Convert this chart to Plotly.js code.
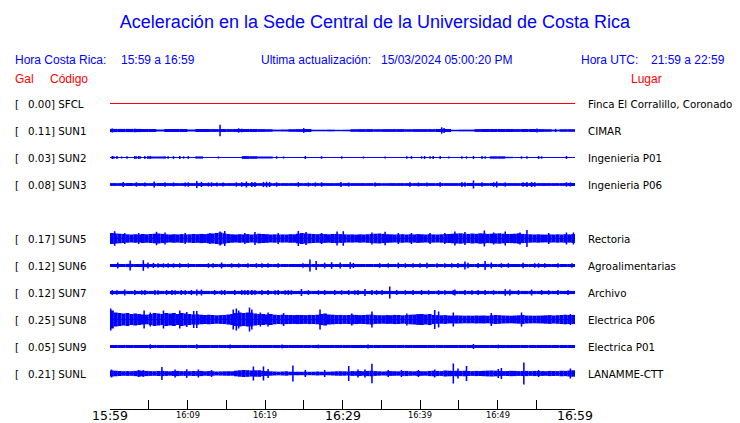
<!DOCTYPE html>
<html><head><meta charset="utf-8">
<script src="https://cdn.plot.ly/plotly-3.0.1.min.js"></script>
<style>html,body{margin:0;padding:0;background:#fff;} #chart{width:740px;height:423px;}</style>
</head><body><div id="chart"></div>
<script>
// ================= DATA =================
const chartTitle = 'Aceleración en la Sede Central de la Universidad de Costa Rica';
const localRange = '15:59 a 16:59';
const utcRange = '21:59 a 22:59';
const lastUpdate = '15/03/2024 05:00:20 PM';
const stations = ['SFCL','SUN1','SUN2','SUN3','SUN5','SUN6','SUN7','SUN8','SUN9','SUNL'];
const pgaGal = [0.00,0.11,0.03,0.08,0.17,0.12,0.12,0.25,0.05,0.21];
const places = ['Finca El Corralillo, Coronado','CIMAR','Ingenieria P01','Ingenieria P06','Rectoria','Agroalimentarias','Archivo','Electrica P06','Electrica P01','LANAMME-CTT'];
const windowMinutes = 60;
const tickStepMinutes = 5;
const tickMinutes = [0,10,20,30,40,50,60];
const tickLabels = ['15:59','16:09','16:19','16:29','16:39','16:49','16:59'];
const tickMajor = [true,false,false,true,false,false,true];

// envelope half-amplitudes (relative units), evenly spread over the window
const env_SFCL = [0,0,0,0,0,0,0,0,0,0,0,0];
const env_SUN1 = [1.6,1.6,1.6,1.6,1.5,1.5,1.0,1.5,1.5,1.5,1.0,1.5,1.5,1.4,
  1.5,1.4,1.5,1.5,1.5,1.4,1.3,0.9,1.0,1.3,1.4,1.5,0.8,0.8,0.9,0.7,0.8,
  1.3,1.4,1.4,1.3,1.4,1.4,1.4,1.3,1.4,1.4,1.4,1.5,1.5,0.8,0.9,0.9,
  1.4,1.5,1.5,1.5,1.5,1.4,1.5,1.5,1.4,1.3,0.9,1.3,1.3];
const env_SUN2 = [0.5,0.5,0.5,0.5,0.5,1.0,1.0,0.5,0.5,0.5,0.5,1.1,0.5,0.5,0.5,0.5,0.5,1.4,1.3,1.0,
  1.0,0.5,0.5,0.5,0.5,0.5,0.5,0.5,0.5,0.5,0.5,0.5,0.5,0.5,0.5,0.5,0.5,0.5,0.5,0.5,
  0.5,0.5,0.5,0.5,0.5,0.5,0.5,0.5,0.5,1.2,1.2,0.7,0.5,0.5,0.5,0.5,0.5,0.5,0.5,0.5];
const env_SUN3 = [1.4,1.4,1.5,1.4,1.4,1.4,1.5,1.4,1.4,1.4,1.4,1.5,1.4,1.4,1.4,1.4,1.4,1.5,1.5,1.4,
  1.4,1.4,1.4,1.4,1.4,1.4,1.4,1.4,1.4,1.4,1.4,1.4,1.4,1.4,1.4,1.3,1.4,1.4,1.4,1.4,
  1.4,1.4,1.4,1.4,1.4,1.4,1.5,1.4,1.4,1.5,1.4,1.4,1.4,1.5,1.5,1.4,1.4,1.4,1.4,1.5];
const env_SUN5 = [5.5,5.0,4.8,4.5,4.2,4.0,4.3,4.0,4.5,4.2, 4.5,4.8,5.0,4.6,4.2,4.0,4.3,4.1,4.4,4.0,
  4.2,4.5,4.3,4.6,4.4,4.8,5.0,5.5,6.0,5.2, 4.5,4.2,4.0,4.3,4.1,4.4,4.0,4.2,4.8,4.5,
  4.3,4.0,4.2,3.9,4.1,4.0,4.3,4.2,4.8,5.5, 5.0,4.8,4.5,4.3,4.6,4.4,4.2,4.5,4.6,4.4,
  4.2,4.0,4.1,3.9,4.2,4.0,4.3,4.5,4.8,5.0, 4.6,4.3,4.2,4.0,4.1,4.3,4.0,4.2,4.1,4.4,
  4.2,4.0,4.3,4.1,4.0,4.2,4.4,4.5,4.8,5.0, 5.2,4.8,4.6,5.0,4.7,5.2,5.0,4.6,4.8,5.0,
  5.2,4.8,4.5,4.6,4.8,5.2,4.6,4.4,4.2,4.0, 4.2,4.0,3.9,4.1,4.0,4.2,4.0,4.3,4.1,4.4];
const env_SUN6 = [1.5,1.5,1.6,1.5,1.6,1.5,1.5,1.5,1.5,1.5,1.5,1.5,1.5,1.5,1.6,1.5,1.5,1.5,1.5,1.5,
  1.5,1.5,1.5,1.5,1.5,1.6,1.5,1.5,1.5,1.5,1.5,1.5,1.5,1.5,1.5,1.5,1.5,1.5,1.5,1.5,
  1.5,1.5,1.5,1.5,1.5,1.6,1.5,1.5,1.6,1.5,1.5,1.5,1.5,1.5,1.5,1.5,1.5,1.5,1.5,1.5];
const env_SUN7 = [1.6,1.6,1.6,1.6,1.6,1.6,1.6,1.6,1.6,1.6,1.6,1.6,1.6,1.6,1.6,1.6,1.6,1.7,1.7,1.6,
  1.6,1.6,1.6,1.6,1.6,1.6,1.6,1.6,1.6,1.6,1.6,1.6,1.6,1.6,1.6,1.6,1.6,1.6,1.6,1.6,
  1.6,1.6,1.6,1.6,1.6,1.6,1.6,1.6,1.6,1.6,1.6,1.7,1.6,1.6,1.6,1.6,1.6,1.6,1.6,1.6];
const env_SUN8 = [9.0,7.0,6.5,6.0,6.5,5.5,6.0,5.5,5.0,4.8, 5.5,6.5,6.0,5.5,6.5,6.0,6.5,5.5,6.5,6.0,
  5.5,5.0,5.2,4.8,4.5,4.8,4.5,4.2,4.4,4.6, 5.0,5.5,6.5,7.0,6.5,7.0,6.8,6.0,5.5,5.5,
  5.0,5.5,4.8,4.5,4.8,4.6,4.5,4.4,4.6,4.5, 4.4,4.6,4.5,4.8,5.5,6.0,5.0,4.8,4.5,4.6,
  4.4,4.5,4.8,4.6,4.4,4.5,4.8,5.0,4.4,4.3, 4.2,4.4,4.3,4.6,4.5,4.2,4.4,4.8,5.0,5.4,
  5.5,5.0,5.5,4.6,4.3,4.2,4.4,4.0,3.9,4.1, 4.0,3.8,3.9,3.8,4.0,3.9,4.0,3.8,4.2,4.5,
  4.3,4.0,3.9,3.8,4.0,4.2,4.5,4.0,3.9,3.8, 3.9,4.0,4.2,4.4,4.0,4.3,4.5,4.8,4.5,4.6];
const env_SUN9 = [1.5,1.5,1.5,1.5,1.5,1.5,1.5,1.5,1.5,1.5,1.5,1.5,1.5,1.5,1.5,1.5,1.5,1.5,1.5,1.5,
  1.5,1.5,1.5,1.5,1.5,1.5,1.5,1.5,1.5,1.5,1.5,1.5,1.5,1.5,1.5,1.5,1.5,1.5,1.5,1.5,
  1.5,1.5,1.5,1.5,1.5,1.5,1.5,1.5,1.5,1.5,1.5,1.5,1.5,1.5,1.5,1.5,1.5,1.5,1.5,1.5];
const env_SUNL = [3.0,2.8,2.5,2.3,2.4,2.3,2.6,3.0,2.8,2.6, 2.4,2.3,2.5,2.6,2.4,2.2,2.5,2.6,2.3,2.4,
  2.3,2.5,2.4,2.6,2.2,2.4,2.3,2.0,2.1,2.2, 2.3,2.2,2.8,3.2,3.5,3.3,3.0,3.2,3.3,2.6,
  2.4,2.2,2.0,1.8,2.0,2.2,1.8,1.7,1.8,1.7, 1.8,1.7,1.8,2.0,1.8,1.7,1.8,2.0,2.2,2.3,
  2.2,2.0,2.4,2.3,2.5,2.2,2.6,2.8,2.4,2.2, 2.0,2.2,2.4,2.3,2.2,2.4,2.6,2.3,2.2,2.5,
  2.3,2.2,2.6,2.8,2.6,2.4,3.0,2.8,2.6,2.8, 2.6,2.8,2.5,2.4,2.6,2.5,2.7,2.9,3.0,2.8,
  2.6,2.4,2.5,2.7,2.6,2.4,2.5,2.6,2.4,2.6, 2.5,2.4,2.3,2.6,2.5,2.4,2.8,2.6,3.0,3.2];

// individual peaks: minute in window and half-amplitude
const spikeT_SFCL = [];
const spikeA_SFCL = [];
const spikeT_SUN1 = [0.3,3.2,14.2,16.6,17.0,25.0,42.8,43.1,55.1,57.5];
const spikeA_SUN1 = [2.0,1.8,5.7,2.2,1.8,2.4,3.2,2.4,2.0,1.6];
const spikeT_SUN2 = [0.3,0.5,0.9,1.5,2.2,3.2,3.4,3.7,3.9,4.5,4.9,5.2,7.1,7.5,8.2,9.0,9.5,10.1,14.0,21.5,
  22.4,25.2,27.3,29.9,32.7,35.5,38.3,38.9,40.2,40.6,41.3,41.7,42.6,43.7,45.4,46.0,46.9,48.0,48.4,53.1,53.8,55.3,55.7,58.9];
const spikeA_SUN2 = [1.5,1.2,1.4,1.0,1.2,1.5,1.3,1.5,1.2,1.4,1.6,1.5,1.3,1.2,1.4,1.5,1.2,1.4,1.0,1.3,
  1.0,1.5,1.3,1.2,1.0,1.0,1.3,1.4,1.2,1.5,1.3,1.4,1.5,1.0,1.3,1.2,1.6,1.5,1.3,1.2,1.3,1.5,1.2,1.5];
const spikeT_SUN3 = [1.7,3.4,4.5,5.7,7.1,8.2,9.7,10.1,11.2,11.8,12.7,13.1,13.8,14.6,16.3,17.0,17.6,18.3,18.7,19.8,
  20.2,20.6,21.5,24.3,25.6,26.5,27.3,29.8,30.8,34.2,38.7,39.8,40.9,42.6,45.4,45.8,46.9,48.0,49.5,49.9,
  51.0,53.3,53.8,54.4,54.8,58.9,59.4];
const spikeA_SUN3 = [2.4,2.2,2.0,3.0,2.2,2.0,2.1,2.2,3.5,2.6,2.0,2.2,2.1,2.0,2.2,2.3,3.0,2.5,2.4,2.6,
  2.8,2.5,2.2,2.4,2.0,2.1,2.2,2.6,2.0,2.0,2.2,2.0,2.1,2.2,2.4,2.2,4.0,2.2,2.3,3.0,
  2.1,2.3,2.4,2.5,2.3,2.2,2.1];
const spikeT_SUN5 = [0.6,1.9,3.7,6.0,7.1,9.7,12.9,14.2,14.8,17.4,18.7,21.7,24.3,25.3,27.3,29.3,30.1,33.8,35.5,37.2,
  38.9,41.3,43.2,44.5,45.8,48.3,49.5,51.0,52.9,53.8,56.6,58.9,59.8];
const spikeA_SUN5 = [7.3,5.5,5.5,6.7,6.0,5.5,5.5,7.0,7.5,5.5,6.5,5.5,7.5,6.5,5.5,7.0,7.3,6.0,6.7,5.5,
  5.5,5.5,5.5,7.0,6.5,8.0,6.0,7.0,6.0,8.5,5.5,6.0,6.0];
const spikeT_SUN6 = [1.0,2.6,4.3,4.9,5.6,6.2,6.9,7.5,8.2,9.0,10.1,12.7,13.3,14.4,15.7,16.6,17.8,18.9,19.6,20.4,
  21.7,24.9,25.8,26.6,27.7,28.6,29.7,31.0,31.4,34.8,35.9,37.2,38.1,39.1,40.0,40.9,42.2,43.2,44.1,44.9,
  45.8,46.2,47.5,48.4,49.2,50.5,51.4,53.3,54.8,55.3,56.1,57.8,59.6];
const spikeA_SUN6 = [3.0,5.0,5.3,3.0,2.5,2.3,2.2,2.3,2.2,2.3,2.2,2.3,2.2,3.0,2.2,2.2,2.2,2.3,2.2,2.3,
  2.2,2.2,6.0,4.5,2.8,3.3,3.0,3.3,2.5,2.3,2.3,2.8,2.3,2.2,2.3,2.7,2.3,2.3,2.2,2.5,
  4.0,2.8,2.5,4.5,3.0,2.3,2.3,2.7,2.3,2.3,2.3,2.3,2.2];
const spikeT_SUN7 = [0.3,0.9,1.9,3.2,4.1,4.5,5.8,6.2,7.3,8.0,8.4,9.2,9.7,10.5,11.2,11.8,13.5,14.4,14.8,16.1,
  17.0,17.4,17.8,18.3,18.7,19.6,20.4,21.3,21.7,22.6,23.0,23.4,24.7,25.6,26.9,27.7,29.0,29.9,30.8,31.6,
  32.0,32.9,33.8,34.4,35.1,36.1,37.0,38.1,39.1,40.2,41.1,42.4,43.2,44.3,44.5,45.8,46.7,47.5,48.4,49.5,
  51.0,51.6,52.7,54.4,55.7,56.6,57.8,59.1];
const spikeA_SUN7 = [2.4,2.3,3.0,2.4,2.3,2.5,2.4,2.3,2.4,2.5,2.3,2.4,2.3,2.5,3.0,3.0,2.4,2.3,2.5,2.4,
  2.4,2.3,2.5,2.4,2.3,2.4,2.5,2.3,2.4,2.3,2.4,2.3,3.5,2.4,2.3,2.4,2.5,2.3,2.4,2.3,
  2.4,3.5,2.4,2.3,2.4,6.0,2.4,2.3,2.4,2.5,2.3,2.4,2.3,2.4,3.0,2.4,2.3,2.4,2.5,2.3,
  3.3,3.0,2.4,3.0,2.4,2.3,2.4,2.4];
const spikeT_SUN8 = [0.1,4.4,5.2,6.9,9.0,9.9,10.8,11.2,15.9,16.3,16.6,18.0,18.3,19.4,20.4,22.4,27.1,31.2,33.8,38.3,
  41.9,42.4,44.3,49.2,53.1,59.4];
const spikeA_SUN8 = [11,9,7,9,9,7.5,8.5,8.5,10,11,9,12,10,7,7,6.5,10,6,8,6,9.5,8,7,6.5,7,5.5];
const spikeT_SUN9 = [5.2,11.2,15.5,22.2,26.9,33.3,46.9,50.1];
const spikeA_SUN9 = [2.2,2.3,2.0,1.9,1.9,1.9,2.5,1.9];
const spikeT_SUNL = [0.2,3.7,4.3,6.7,8.4,9.9,11.4,13.1,18.5,19.8,20.4,23.6,25.2,27.7,30.8,32.0,32.9,33.8,35.9,37.6,
  39.8,41.9,44.3,44.9,46.0,50.1,50.5,53.4,55.3,59.4];
const spikeA_SUNL = [4,3.5,3.3,6.5,4,4.3,4,3.5,7,7,4.5,8,3.5,3.5,7.5,4,4,9.7,3.5,3.5,3.5,4,10,5,7.5,4.5,5.5,11,3.5,5];

const envelopes = [env_SFCL,env_SUN1,env_SUN2,env_SUN3,env_SUN5,env_SUN6,env_SUN7,env_SUN8,env_SUN9,env_SUNL];
const spikeTimes = [spikeT_SFCL,spikeT_SUN1,spikeT_SUN2,spikeT_SUN3,spikeT_SUN5,spikeT_SUN6,spikeT_SUN7,spikeT_SUN8,spikeT_SUN9,spikeT_SUNL];
const spikeAmps = [spikeA_SFCL,spikeA_SUN1,spikeA_SUN2,spikeA_SUN3,spikeA_SUN5,spikeA_SUN6,spikeA_SUN7,spikeA_SUN8,spikeA_SUN9,spikeA_SUNL];

// ================= LAYOUT / STYLE =================
const W = 740, H = 423;
const PL = 110, PR = 575, PT = 88, PB = 409;      // plot box in px
const ROW0 = 103.5, ROWSTEP = 27;                 // px
const GAP_AFTER = 3;                              // SUN4 absent -> empty row
const AMP = 1 / ROWSTEP;                          // amplitude units -> row units
const BLUE = '#0000ff', RED = '#ff0000';
const SANS = 'Liberation Sans, Arial, Helvetica, sans-serif';
const DJ = 'DejaVu Sans, Verdana, sans-serif';
const xp = px => (px - PL) / (PR - PL);
const yp = py => (PB - py) / (PB - PT);
const slotOf = i => (i > GAP_AFTER ? i + 1 : i);

const traces = [];
const annotations = [];
stations.forEach((st, i) => {
  const s = slotOf(i);
  const col = st === 'SFCL' ? RED : BLUE;
  traces.push({type:'scatter', mode:'lines', x:[0, windowMinutes], y:[s, s],
    line:{color:col, width:1}, hoverinfo:'skip', showlegend:false});
  const env = envelopes[i];
  const bw = windowMinutes / env.length;
  traces.push({type:'bar', x: env.map((_, k) => (k + 0.5) * bw),
    base: env.map(a => s - a * AMP), y: env.map(a => 2 * a * AMP),
    width: bw, marker:{color:col, line:{width:0}}, hoverinfo:'skip', showlegend:false});
  if (spikeTimes[i].length) {
    traces.push({type:'bar', x: spikeTimes[i],
      base: spikeAmps[i].map(a => s - a * AMP), y: spikeAmps[i].map(a => 2 * a * AMP),
      width: 0.2, marker:{color:col, line:{width:0}}, hoverinfo:'skip', showlegend:false});
  }
  const lab = {showarrow:false, xref:'paper', yref:'y', y:s, yanchor:'middle', xanchor:'left',
    borderpad:0, borderwidth:0, font:{family:DJ, size:10.3, color:'#000'}};
  annotations.push(Object.assign({}, lab, {x: xp(15), text:'['}));
  annotations.push(Object.assign({}, lab, {x: xp(27.5), text: pgaGal[i].toFixed(2) + '] ' + st}));
  annotations.push(Object.assign({}, lab, {x: xp(587.5), text: places[i]}));
});

const hdr = (px, py, text, color, anchor) => ({showarrow:false, xref:'paper', yref:'paper',
  x: xp(px), y: yp(py), xanchor: anchor || 'left', yanchor:'middle', text, borderpad:0, borderwidth:0,
  font:{family:SANS, size:12, color}});
annotations.push(hdr(15, 60, 'Hora Costa Rica:', BLUE));
annotations.push(hdr(120.5, 60, localRange, BLUE));
annotations.push(hdr(260.5, 60, 'Ultima actualización:', BLUE));
annotations.push(hdr(380.5, 60, lastUpdate, BLUE));
annotations.push(hdr(580.5, 60, 'Hora UTC:', BLUE));
annotations.push(hdr(650.5, 60, utcRange, BLUE));
annotations.push(hdr(15, 79, 'Gal', RED));
annotations.push(hdr(50, 79, 'Código', RED));
annotations.push(hdr(630.5, 79, 'Lugar', RED));

tickMinutes.forEach((m, k) => {
  annotations.push({showarrow:false, xref:'x', yref:'paper', x:m, y: yp(tickMajor[k] ? 408 : 409.5),
    xanchor:'center', yanchor:'top', text: tickLabels[k], borderpad:0, borderwidth:0,
    font:{family:DJ, size: tickMajor[k] ? 12.5 : 8.3, color:'#000'}});
});

const layout = {
  width:W, height:H, paper_bgcolor:'#fff', plot_bgcolor:'#fff',
  margin:{l:PL, r:W-PR, t:PT, b:H-PB, pad:0},
  title:{text:chartTitle, font:{family:SANS, size:18, color:BLUE},
    x:375/W, xref:'container', xanchor:'center', y:1-22/H, yref:'container', yanchor:'middle'},
  barmode:'overlay', showlegend:false, hovermode:false,
  xaxis:{range:[0, windowMinutes], showgrid:false, zeroline:false, showline:true, linecolor:'#000', linewidth:1,
    ticks:'inside', ticklen:9, tickwidth:1, tickcolor:'#000', tick0:0, dtick:tickStepMinutes,
    showticklabels:false, fixedrange:true},
  yaxis:{range:[(PB-ROW0)/ROWSTEP, (PT-ROW0)/ROWSTEP], visible:false, showgrid:false, zeroline:false, fixedrange:true},
  annotations
};
Plotly.newPlot('chart', traces, layout, {staticPlot:true, displayModeBar:false});
</script></body></html>
